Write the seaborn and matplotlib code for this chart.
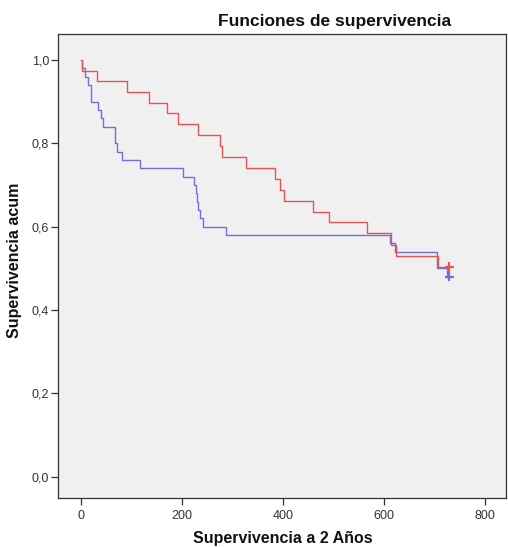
import matplotlib
matplotlib.use("Agg")
import matplotlib.pyplot as plt
import seaborn as sns
import pandas as pd

# Kaplan-Meier step curves (time in days, cumulative survival)
red_t = [0, 2, 32, 91, 136, 171, 193, 233, 276, 280, 327, 384, 394, 403,
         460, 492, 566, 615, 625, 707, 730]
red_s = [1.0, 0.974, 0.949, 0.923, 0.897, 0.872, 0.846, 0.820, 0.794, 0.767,
         0.741, 0.715, 0.689, 0.662, 0.636, 0.610, 0.584, 0.557, 0.530, 0.503,
         0.503]

blue_t = [0, 2, 8, 14, 20, 35, 40, 45, 68, 71, 81, 117, 202, 224, 228, 230,
          233, 237, 242, 287, 612, 622, 705, 726, 730]
blue_s = [1.0, 0.98, 0.96, 0.94, 0.90, 0.88, 0.86, 0.84, 0.80, 0.78, 0.76,
          0.74, 0.72, 0.70, 0.68, 0.66, 0.64, 0.62, 0.60, 0.58, 0.56, 0.54,
          0.50, 0.48, 0.48]

# Censored observations at the end of follow-up
cens_t = [730, 730]
cens_s = [0.503, 0.48]
cens_group = ["red", "blue"]

xticks = [0, 200, 400, 600, 800]
yticks = [0.0, 0.2, 0.4, 0.6, 0.8, 1.0]
ytick_labels = ["0,0", "0,2", "0,4", "0,6", "0,8", "1,0"]

palette = {"blue": "#7070dc", "red": "#e85252"}

sns.set_style("ticks")
plt.rcParams["font.family"] = ["Liberation Sans", "DejaVu Sans"]

fig = plt.figure(figsize=(5.08, 5.47), dpi=100)
fig.patch.set_facecolor("white")
ax = fig.add_axes([58 / 508, 1 - 498 / 547, 448 / 508, 464 / 547])
ax.set_facecolor("#f0f0f0")

curves = pd.concat([
    pd.DataFrame({"t": blue_t, "s": blue_s, "g": "blue"}),
    pd.DataFrame({"t": red_t, "s": red_s, "g": "red"}),
], ignore_index=True)

sns.lineplot(data=curves, x="t", y="s", hue="g", palette=palette,
             hue_order=["blue", "red"], estimator=None, sort=False,
             drawstyle="steps-post", linewidth=1.0, ax=ax, legend=False)

cens = pd.DataFrame({"t": cens_t, "s": cens_s, "g": cens_group})
sns.scatterplot(data=cens, x="t", y="s", hue="g", palette=palette,
                marker="+", s=45, linewidth=1.6, ax=ax, legend=False,
                zorder=5)

ax.set_xlim(-45, 842)
ax.set_ylim(-0.0516, 1.0624)
ax.set_xticks(xticks)
ax.set_xticklabels([str(v) for v in xticks])
ax.set_yticks(yticks)
ax.set_yticklabels(ytick_labels)
ax.tick_params(axis="x", length=5, width=0.9, pad=3.5, labelsize=9,
               colors="#333333")
ax.tick_params(axis="y", length=5, width=0.9, pad=1.5, labelsize=9,
               colors="#333333")
for sp in ax.spines.values():
    sp.set_color("#333333")
    sp.set_linewidth(0.9)
ax.set_xlabel("")
ax.set_ylabel("")

fig.text(335 / 508, 1 - 21.5 / 547, "Funciones de supervivencia",
         ha="center", va="center", fontsize=12.5, fontweight="bold",
         color="#111111")
fig.text(283 / 508, 1 - 543 / 547, "Supervivencia a 2 Años",
         ha="center", va="baseline", fontsize=11.5, fontweight="bold",
         color="#111111")
fig.text(15 / 508, 1 - 260 / 547, "Supervivencia acum", rotation=90,
         ha="center", va="center", fontsize=11.5, fontweight="bold",
         color="#111111")

fig.savefig("out.png", dpi=100, facecolor="white")
